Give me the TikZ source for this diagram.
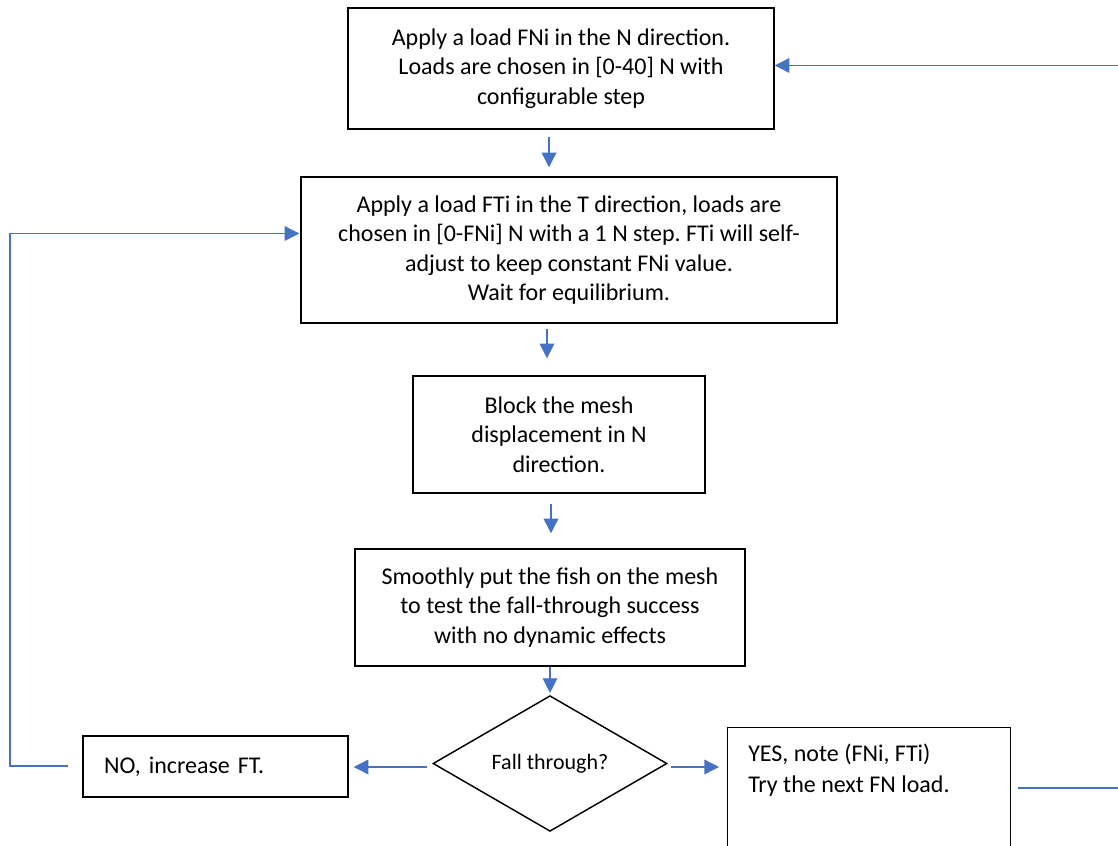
\documentclass[tikz,border=0pt]{standalone}
\usepackage{fontspec}
\setmainfont{Carlito}
\frenchspacing
\usetikzlibrary{arrows.meta,shapes.geometric,calc}
\definecolor{arrblue}{HTML}{4472C4}
\begin{document}
\begin{tikzpicture}[x=0.75pt,y=-0.75pt,
  box/.style={draw=black,line width=1.1pt,align=center,inner sep=0pt,font=\fontsize{18}{22}\selectfont\frenchspacing},
  txt/.style={inner sep=0pt,align=left,font=\fontsize{18}{23}\selectfont\frenchspacing},
  arr/.style={draw=arrblue,line width=1pt,-{Triangle[length=11pt,width=11pt]}},
  link/.style={draw=arrblue,line width=1pt}]
\useasboundingbox (0,0) rectangle (1118,846);
\clip (0,0) rectangle (1118,846);

\node[box,minimum width=319.5pt,minimum height=90.75pt] (box1) at (561,68.5)
  {Apply a load FNi in the N direction.\\Loads are chosen in [0-40] N with\\configurable step};
\node[box,minimum width=402pt,minimum height=109.5pt] (box2) at (569,250)
  {Apply a load FTi in the T direction, loads are\\chosen in [0-FNi] N with a 1 N step. FTi will self-\\adjust to keep constant FNi value.\\Wait for equilibrium.};
\node[box,minimum width=219pt,minimum height=87.75pt] (box3) at (559,434.5)
  {Block the mesh\\displacement in N\\direction.};
\node[box,minimum width=292.5pt,minimum height=87.75pt] (box4) at (550,607.5)
  {Smoothly put the fish on the mesh\\to test the fall-through success\\with no dynamic effects};
\node[draw=black,line width=1.1pt,shape=diamond,inner sep=0pt,minimum width=175.5pt,minimum height=96.75pt,font=\fontsize{16.5}{20}\selectfont] (dec) at (550,763.5) {Fall through?};
\node[box,align=left,text width=167.25pt,inner xsep=15.75pt,minimum height=45.75pt] (no) at (215.5,766.5) {NO, increase FT.};
\node[box,anchor=north west,minimum width=212.25pt,minimum height=112.5pt] (yes) at (727,727) {};
\node[txt,anchor=north west] (yestext) at (748,744) {YES, note (FNi, FTi)\\Try the next FN load.};

% connectors
\coordinate (tr) at (1118,65.5);
\draw[arr] (tr) -- (tr -| box1.east);
\coordinate (a1s) at (549,137);
\draw[arr,shorten >=6.75pt] (a1s) -- (a1s |- box2.north);
\coordinate (a2s) at (547,329);
\draw[arr,shorten >=12.75pt] (a2s) -- (a2s |- box3.north);
\coordinate (a3s) at (551,504);
\draw[arr,shorten >=11.25pt] (a3s) -- (a3s |- box4.north);
\coordinate (a4s) at (550,667);
\draw[arr,shorten >=1.5pt] (a4s) -- (dec.north);
\coordinate (ls) at (427,767);
\draw[arr,shorten >=3.75pt] (ls) -- (ls -| no.east);
\coordinate (rs) at (671,767);
\draw[arr,shorten >=6pt] (rs) -- (rs -| yes.west);
\coordinate (lp) at (68,766);
\coordinate (lc) at (10,233.5);
\draw[arr,shorten >=0.75pt] (lp) -- (lp -| lc) -- (lc) -- (lc -| box2.west);
\coordinate (rl1) at (1018,788);
\coordinate (rl2) at (1118,788);
\draw[link] (rl1) -- (rl2);
\end{tikzpicture}
\end{document}
